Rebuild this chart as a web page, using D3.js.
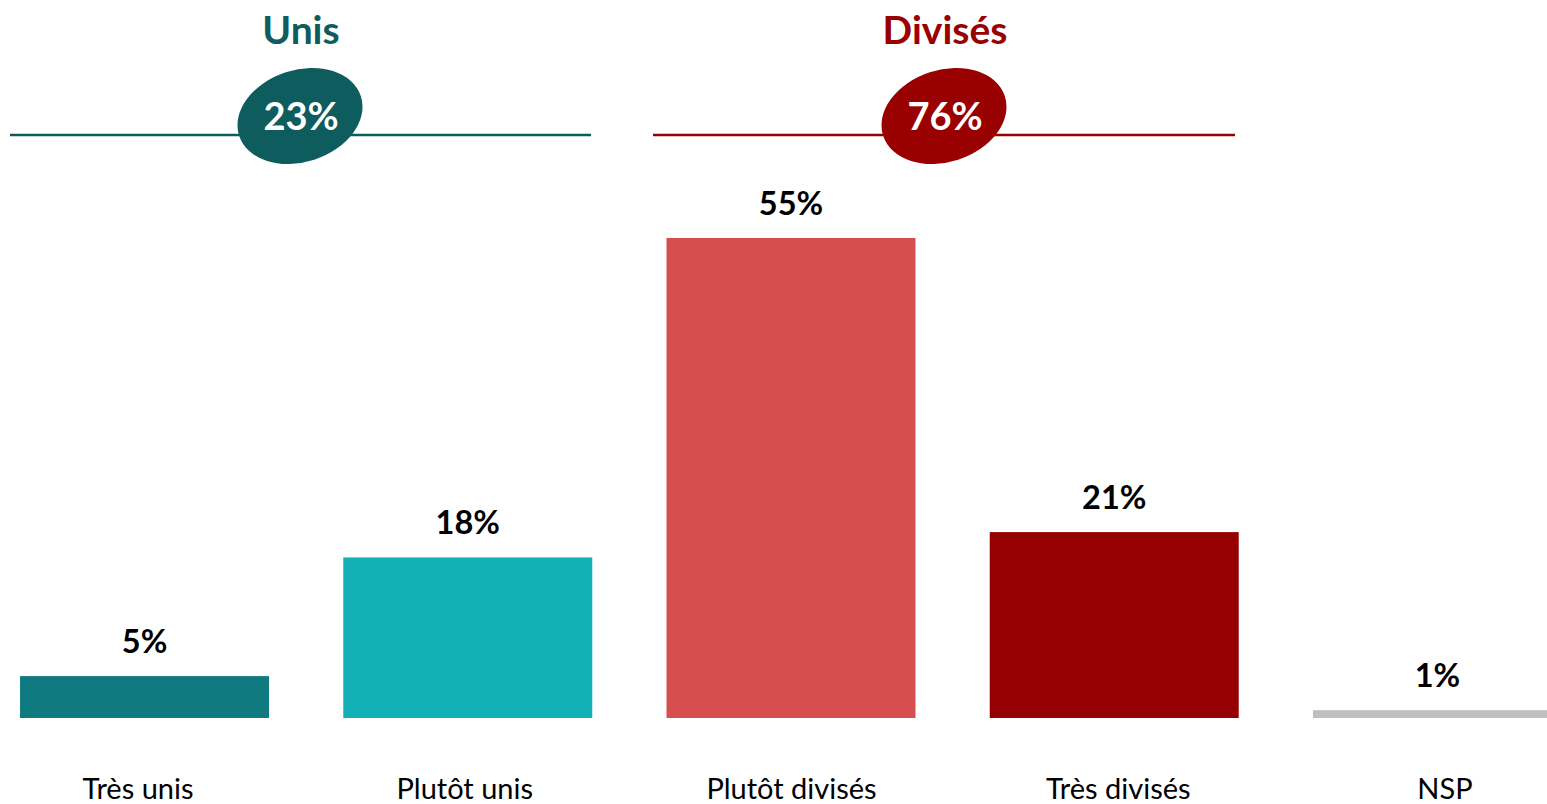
<!DOCTYPE html>
<html><head><meta charset="utf-8">
<script src="https://cdn.jsdelivr.net/npm/d3@7"></script>
<style>html,body{margin:0;padding:0;background:#fff;overflow:hidden}</style>
</head><body>
<script>
const categories = ["Très unis", "Plutôt unis", "Plutôt divisés", "Très divisés", "NSP"];
const values = [4.8, 18.4, 55.0, 21.3, 0.9];
const barColors = ["#0f7a80", "#13b0b8", "#d74e51", "#960000", "#bfbfbf"];
const groupNames = ["Unis", "Divisés"];
const groupTotals = ["23%", "76%"];
const groupColors = ["#0e5c5e", "#990000"];

const W = 1547, H = 804;
const font = "Lato, 'Open Sans', sans-serif";
const svg = d3.select("body").append("svg").attr("width", W).attr("height", H);

const x = d3.scaleBand().domain(categories).range([-17.1, 1599.1]).paddingInner(0.2297).paddingOuter(0.1149);
const xLabel = d3.scalePoint().domain(categories).range([138, 1445]);
const y = d3.scaleLinear().domain([0, 55]).range([718, 238]);

svg.selectAll("rect.bar").data(categories).join("rect")
  .attr("class", "bar")
  .attr("x", d => x(d)).attr("width", x.bandwidth())
  .attr("y", (d, i) => y(values[i])).attr("height", (d, i) => y(0) - y(values[i]))
  .attr("fill", (d, i) => barColors[i]);

svg.selectAll("text.val").data(categories).join("text")
  .attr("class", "val")
  .attr("x", d => x(d) + x.bandwidth() / 2)
  .attr("y", (d, i) => y(values[i]) - 23)
  .attr("text-anchor", "middle")
  .attr("font-family", font).attr("font-weight", "bold").attr("font-size", 32.5)
  .attr("fill", "#000")
  .text((d, i) => Math.round(values[i]) + "%");

svg.selectAll("text.cat").data(categories).join("text")
  .attr("class", "cat")
  .attr("x", d => xLabel(d))
  .attr("y", 799)
  .attr("text-anchor", "middle")
  .attr("font-family", font).attr("font-size", 29)
  .attr("fill", "#000")
  .text(d => d);

const layout = [{x0: 10, x1: 591, cx: 300}, {x0: 653, x1: 1235, cx: 944}];
groupNames.forEach((name, i) => {
  const L = layout[i], color = groupColors[i];
  svg.append("line").attr("x1", L.x0).attr("x2", L.x1).attr("y1", 135).attr("y2", 135)
    .attr("stroke", color).attr("stroke-width", 2.5);
  svg.append("ellipse").attr("cx", 0).attr("cy", 0).attr("rx", 64).attr("ry", 46)
    .attr("transform", `translate(${L.cx},116) rotate(-18)`)
    .attr("fill", color);
  svg.append("text").attr("x", L.cx + 1).attr("y", 130).attr("text-anchor", "middle")
    .attr("font-family", font).attr("font-weight", "bold").attr("font-size", 38)
    .attr("fill", "#fff").text(groupTotals[i]);
  svg.append("text").attr("x", L.cx + 1).attr("y", 44).attr("text-anchor", "middle")
    .attr("font-family", font).attr("font-weight", "bold").attr("font-size", 39)
    .attr("fill", color).text(name);
});
</script>
</body></html>
